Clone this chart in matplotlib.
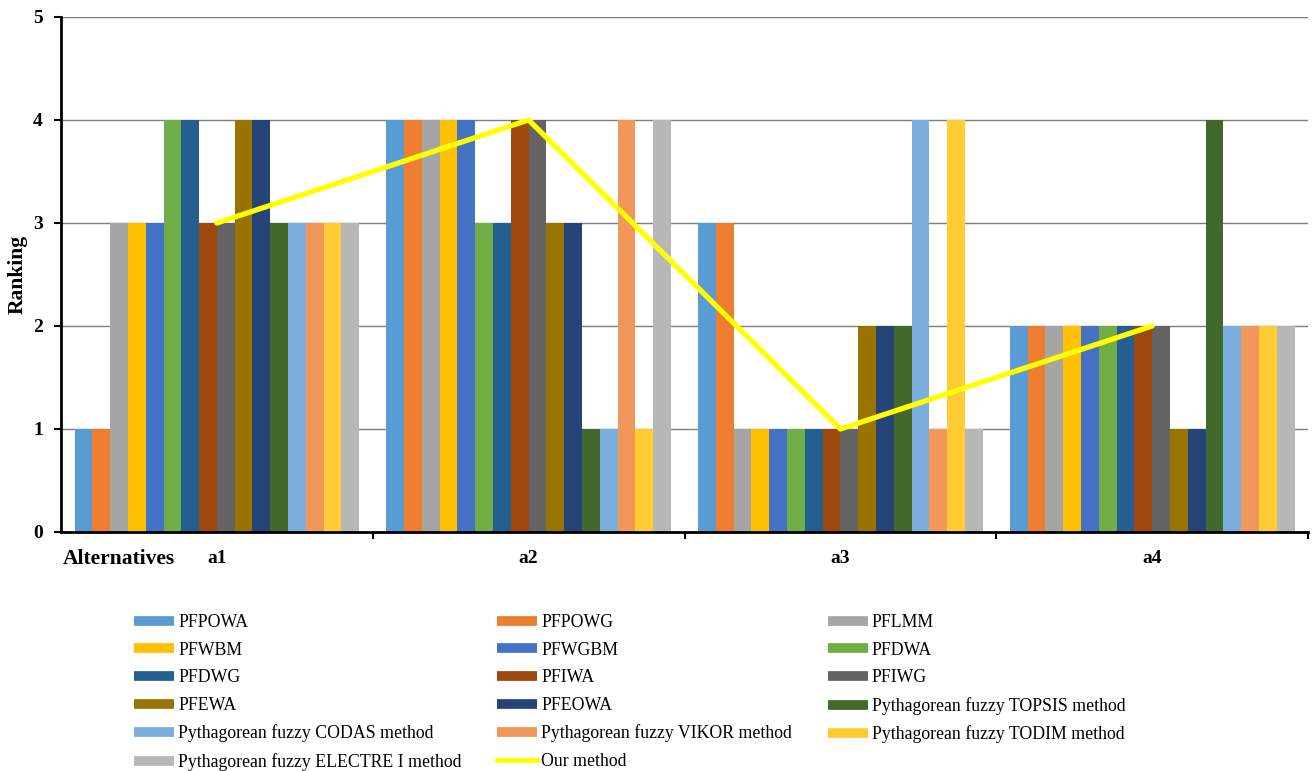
import numpy as np
import matplotlib
matplotlib.use("Agg")
import matplotlib.pyplot as plt
from matplotlib.lines import Line2D

plt.rcParams['font.family'] = ['Liberation Serif', 'DejaVu Serif']

alternatives = ["a1", "a2", "a3", "a4"]

methods = ["PFPOWA", "PFPOWG", "PFLMM", "PFWBM", "PFWGBM", "PFDWA", "PFDWG",
           "PFIWA", "PFIWG", "PFEWA", "PFEOWA",
           "Pythagorean fuzzy TOPSIS method", "Pythagorean fuzzy CODAS method",
           "Pythagorean fuzzy VIKOR method", "Pythagorean fuzzy TODIM method",
           "Pythagorean fuzzy ELECTRE I method"]

# ranking of a1..a4 for each method
rankings = [
    [1, 4, 3, 2],
    [1, 4, 3, 2],
    [3, 4, 1, 2],
    [3, 4, 1, 2],
    [3, 4, 1, 2],
    [4, 3, 1, 2],
    [4, 3, 1, 2],
    [3, 4, 1, 2],
    [3, 4, 1, 2],
    [4, 3, 2, 1],
    [4, 3, 2, 1],
    [3, 1, 2, 4],
    [3, 1, 4, 2],
    [3, 4, 1, 2],
    [3, 1, 4, 2],
    [3, 4, 1, 2],
]

our_method = [3, 4, 1, 2]

colors = ["#5B9BD5", "#ED7D31", "#A5A5A5", "#FFC000", "#4472C4", "#70AD47",
          "#255E91", "#9E480E", "#636363", "#997300", "#264478", "#43682B",
          "#7CAFDD", "#F1975A", "#FFCD33", "#B7B7B7"]

fig = plt.figure(figsize=(13.12, 7.71), dpi=100)
ax = fig.add_axes([0.0465, 0.31, 0.9505, 0.668])

x = np.arange(len(alternatives))
n = len(methods)
group_w = 0.913
bar_w = group_w / n

for i, (name, vals) in enumerate(zip(methods, rankings)):
    offs = -group_w / 2 + bar_w * (i + 0.5)
    ax.bar(x + offs, vals, width=bar_w, color=colors[i], label=name, zorder=2)

ax.plot(x, our_method, color="#FFFF00", lw=3.8, solid_capstyle="round",
        zorder=3, label="Our method")

ax.set_xlim(-0.5, len(alternatives) - 0.5)
ax.set_ylim(0, 5)
ax.set_yticks(range(6))
ax.yaxis.grid(True, color="#7F7F7F", lw=1.0, zorder=0)
ax.set_axisbelow(True)

for side in ["top", "right"]:
    ax.spines[side].set_visible(False)
for side in ["left", "bottom"]:
    ax.spines[side].set_linewidth(2.0)
    ax.spines[side].set_color("black")

ax.set_xticks(x)
ax.set_xticklabels(alternatives, fontsize=14, fontweight="bold")
ax.tick_params(axis="x", which="major", length=0, pad=13)
ax.set_xticks(np.arange(0.5, len(alternatives)), minor=True)
ax.tick_params(axis="x", which="minor", length=5, width=1.5, direction="out")
ax.tick_params(axis="y", length=5, width=1.5, labelsize=14, pad=8)
for lab in ax.get_yticklabels():
    lab.set_fontweight("bold")

ax.set_ylabel("Ranking", fontsize=15.5, fontweight="bold", labelpad=4)
ax.annotate("Alternatives", xy=(0, 0), xycoords="axes fraction",
            xytext=(1, -12), textcoords="offset points",
            ha="left", va="top", fontsize=15.5, fontweight="bold")

# legend: row-wise order over three columns
handles = [Line2D([], [], color=c, lw=7, solid_capstyle="butt") for c in colors]
handles.append(Line2D([], [], color="#FFFF00", lw=3.5))
labels = methods + ["Our method"]
order = [0, 3, 6, 9, 12, 15, 1, 4, 7, 10, 13, 16, 2, 5, 8, 11, 14]
fig.legend([handles[k] for k in order], [labels[k] for k in order],
           ncol=3, loc="upper left", bbox_to_anchor=(0.097, 0.213),
           frameon=False, fontsize=12.8, handlelength=2.25, handletextpad=0.22,
           columnspacing=2.0, labelspacing=0.6, borderaxespad=0)

fig.savefig("out.png", dpi=100)
